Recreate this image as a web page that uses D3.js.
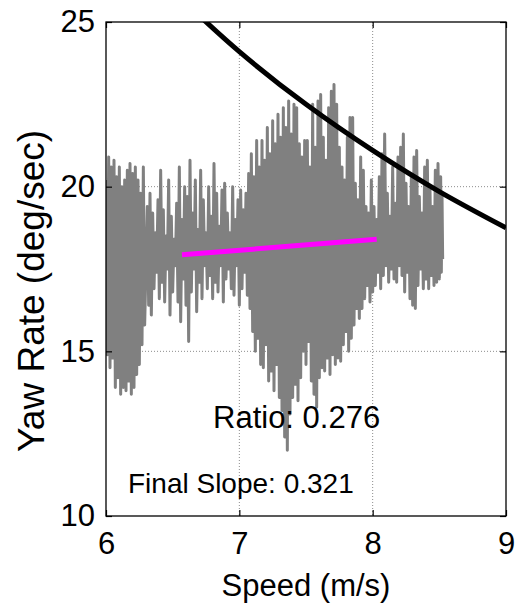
<!DOCTYPE html>
<html>
<head>
<meta charset="utf-8">
<script src="https://cdn.jsdelivr.net/npm/d3@7"></script>
<style>
  body { margin: 0; background: #fff; }
  svg { display: block; font-family: "Liberation Sans", Arial, Helvetica, sans-serif; }
</style>
</head>
<body>
<svg id="chart" width="518" height="608"></svg>
<script>
// axis ticks
const xTicks = [6, 7, 8, 9];
const yTicks = [10, 15, 20, 25];

// measured trace: each swing goes from a high yaw rate at spikeSpeed
// down to a low yaw rate at spikeLowSpeed
const spikeSpeed = [
  6.005, 6.02, 6.04, 6.06, 6.08, 6.10, 6.12, 6.14, 6.16, 6.18, 6.20, 6.22, 6.24, 6.26, 6.28,
  6.31, 6.33, 6.35, 6.37, 6.39, 6.41, 6.43, 6.45, 6.47, 6.49, 6.51, 6.53, 6.55, 6.57, 6.59,
  6.61, 6.63, 6.65, 6.67, 6.69, 6.71, 6.73, 6.75, 6.77, 6.79, 6.81, 6.83, 6.85, 6.87, 6.89,
  6.91, 6.93, 6.95, 6.97, 6.99,
  7.01, 7.03, 7.05, 7.07, 7.09, 7.11, 7.13, 7.15, 7.17, 7.19, 7.21, 7.23, 7.25, 7.27, 7.29,
  7.31, 7.33, 7.35, 7.37, 7.39, 7.41, 7.43, 7.45, 7.47, 7.49, 7.51, 7.53, 7.55, 7.57, 7.59,
  7.61, 7.63, 7.65, 7.67, 7.69, 7.71, 7.73, 7.75, 7.77, 7.79, 7.81, 7.83, 7.85, 7.87, 7.89,
  7.91, 7.93, 7.95, 7.97, 7.99,
  8.01, 8.03, 8.05, 8.07, 8.09, 8.11, 8.13, 8.15, 8.17, 8.19, 8.21, 8.23, 8.25, 8.27, 8.29,
  8.31, 8.33, 8.35, 8.37, 8.39, 8.41, 8.43, 8.45, 8.47, 8.49, 8.51, 8.52
];
const spikeLowSpeed = [
  6.01, 6.03, 6.05, 6.07, 6.09, 6.11, 6.13, 6.15, 6.17, 6.19, 6.21, 6.23, 6.25, 6.27, 6.29,
  6.32, 6.34, 6.36, 6.38, 6.40, 6.42, 6.44, 6.46, 6.48, 6.50, 6.52, 6.54, 6.56, 6.58, 6.60,
  6.62, 6.64, 6.66, 6.68, 6.70, 6.72, 6.74, 6.76, 6.78, 6.80, 6.82, 6.84, 6.86, 6.88, 6.90,
  6.92, 6.94, 6.96, 6.98, 7.00,
  7.02, 7.04, 7.06, 7.08, 7.10, 7.12, 7.14, 7.16, 7.18, 7.20, 7.22, 7.24, 7.26, 7.28, 7.30,
  7.32, 7.34, 7.36, 7.38, 7.40, 7.42, 7.44, 7.46, 7.48, 7.50, 7.52, 7.54, 7.56, 7.58, 7.60,
  7.62, 7.64, 7.66, 7.68, 7.70, 7.72, 7.74, 7.76, 7.78, 7.80, 7.82, 7.84, 7.86, 7.88, 7.90,
  7.92, 7.94, 7.96, 7.98, 8.00,
  8.02, 8.04, 8.06, 8.08, 8.10, 8.12, 8.14, 8.16, 8.18, 8.20, 8.22, 8.24, 8.26, 8.28, 8.30,
  8.32, 8.34, 8.36, 8.38, 8.40, 8.42, 8.44, 8.46, 8.48, 8.50, 8.515, 8.525
];
const spikeHigh = [
  20.2, 20.9, 20.6, 20.8, 20.3, 20.6, 20.0, 20.2, 20.5, 20.7, 20.4, 20.6, 20.2, 19.8, 20.6,
  19.4, 19.8, 19.2, 18.6, 19.6, 20.5, 19.3, 18.5, 20.2, 19.1, 18.4, 19.5, 20.6, 19.0, 20.0,
  19.7, 20.8, 19.2, 20.2, 18.7, 20.5, 19.6, 18.6, 20.0, 19.1, 20.7, 19.8, 18.8, 19.9, 20.1,
  19.2, 18.6, 20.0, 19.0, 19.6,
  19.9, 19.3, 19.8, 20.4, 21.0, 20.3, 21.4, 20.6, 21.4, 20.8, 21.8, 21.0, 22.0, 21.3, 22.2,
  21.5, 22.4, 21.8, 22.6, 21.6, 22.5, 22.4, 21.3, 20.9, 21.4, 21.4, 20.6, 22.5, 21.2, 22.6,
  22.8, 21.5, 20.8, 22.4, 22.9, 23.1, 22.5, 21.2, 20.6, 20.2, 21.5, 22.1, 22.1, 20.1, 19.6,
  20.9, 20.5, 19.4, 19.2, 20.2,
  19.4, 19.0, 20.3, 21.0, 21.6, 19.8, 19.1, 20.6, 19.5, 20.9, 21.2, 21.6, 20.1, 19.4, 20.3,
  20.9, 21.1, 19.7, 19.2, 20.6, 20.8, 19.9, 19.4, 20.5, 20.7, 20.3, 19.8
];
const spikeLow = [
  14.9, 14.5, 14.8, 13.9, 14.2, 13.7, 13.9, 13.8, 14.1, 13.7, 13.9, 14.3, 14.6, 15.2, 15.8,
  16.4, 16.1, 16.9, 17.4, 16.6, 17.1, 16.5, 17.5, 16.1, 16.8, 17.6, 16.5, 15.9, 17.2, 16.4,
  15.3, 16.8, 17.5, 16.2, 17.1, 16.6, 17.6, 16.9, 17.3, 16.6, 17.1, 16.8, 17.6, 16.5, 17.2,
  17.5, 16.9, 16.7, 17.6, 16.4,
  16.9, 17.4, 16.7, 16.3, 15.6, 15.0, 15.4, 14.6, 14.5, 15.2, 14.1, 14.4, 13.8, 14.6, 13.6,
  13.2, 12.4, 12.0, 13.1, 13.6, 14.0, 13.5, 14.2, 15.0, 14.6, 15.3, 14.1, 13.7, 13.3, 14.2,
  14.5, 14.4, 14.8, 14.3, 14.9, 14.6, 14.8, 14.7, 15.2, 15.6, 15.0, 15.4, 15.8, 16.3, 16.0,
  16.3, 16.6, 17.0, 16.5, 16.8,
  17.0, 17.4, 16.9, 17.3, 17.6, 17.1, 17.5, 17.2, 17.1, 17.6, 17.3, 16.8, 17.4, 16.6, 16.4,
  16.3, 17.0, 17.5, 16.9, 17.2, 16.9, 17.3, 17.0, 17.1, 17.2, 17.4, 17.8
];

// fitted line (magenta)
const fitSpeed = [6.57, 8.03];
const fitYaw = [17.93, 18.4];

// lateral acceleration limit curve (black)
const limitSpeed = [6.6, 7.0, 7.5, 8.0, 8.5, 9.0];
const limitYaw = [25.57, 24.1, 22.5, 21.1, 19.85, 18.75];

const ratioText = "Ratio: 0.276";
const slopeText = "Final Slope: 0.321";

const svg = d3.select("#chart");
const margin = { left: 106, top: 22, right: 12, bottom: 92 };
const width = 518 - margin.left - margin.right;
const height = 608 - margin.top - margin.bottom;

const x = d3.scaleLinear().domain([6, 9]).range([0, width]);
const y = d3.scaleLinear().domain([10, 25]).range([height, 0]);

const g = svg.append("g")
  .attr("transform", `translate(${margin.left},${margin.top})`);

g.append("clipPath").attr("id", "clip")
  .append("rect").attr("width", width).attr("height", height);

// dotted grid
g.append("g")
  .selectAll("line")
  .data(xTicks.slice(1, -1))
  .join("line")
  .attr("x1", d => x(d)).attr("x2", d => x(d))
  .attr("y1", 0).attr("y2", height)
  .attr("stroke", "#8c8c8c")
  .attr("stroke-width", 1)
  .attr("stroke-dasharray", "1,2");

g.append("g")
  .selectAll("line")
  .data(yTicks.slice(1, -1))
  .join("line")
  .attr("y1", d => y(d)).attr("y2", d => y(d))
  .attr("x1", 0).attr("x2", width)
  .attr("stroke", "#8c8c8c")
  .attr("stroke-width", 1)
  .attr("stroke-dasharray", "1,2");

// gray trace
const tracePts = [];
spikeSpeed.forEach((s, i) => {
  tracePts.push([s, spikeHigh[i]]);
  tracePts.push([spikeLowSpeed[i], spikeLow[i]]);
});

const line = d3.line().x(d => x(d[0])).y(d => y(d[1]));

g.append("path")
  .datum(tracePts)
  .attr("clip-path", "url(#clip)")
  .attr("fill", "none")
  .attr("stroke", "#808080")
  .attr("stroke-width", 3)
  .attr("stroke-linejoin", "round")
  .attr("d", line);

// fit line
g.append("path")
  .datum(fitSpeed.map((s, i) => [s, fitYaw[i]]))
  .attr("fill", "none")
  .attr("stroke", "#ff00ff")
  .attr("stroke-width", 5)
  .attr("d", line);

// limit curve
g.append("path")
  .datum(limitSpeed.map((s, i) => [s, limitYaw[i]]))
  .attr("clip-path", "url(#clip)")
  .attr("fill", "none")
  .attr("stroke", "#000")
  .attr("stroke-width", 5)
  .attr("d", line.curve(d3.curveNatural));

// box with inward ticks
const tickLen = 6;
const axisStyle = sel => {
  sel.select(".domain").remove();
  sel.selectAll(".tick line").attr("stroke", "#000").attr("stroke-width", 1.2);
  sel.selectAll("text").attr("fill", "#000").style("font-size", "31px");
};

g.append("g")
  .attr("transform", `translate(0,${height})`)
  .call(d3.axisBottom(x).tickValues(xTicks).tickSizeInner(-tickLen).tickSizeOuter(0).tickFormat(d3.format("d")))
  .call(axisStyle)
  .call(a => a.selectAll("text").attr("y", 38).attr("dy", 0));

g.append("g")
  .call(d3.axisLeft(y).tickValues(yTicks).tickSizeInner(-tickLen).tickSizeOuter(0).tickPadding(11).tickFormat(d3.format("d")))
  .call(axisStyle);

g.append("g")
  .call(d3.axisTop(x).tickValues(xTicks).tickSizeInner(-tickLen).tickSizeOuter(0).tickFormat(""))
  .call(axisStyle);

g.append("g")
  .attr("transform", `translate(${width},0)`)
  .call(d3.axisRight(y).tickValues(yTicks).tickSizeInner(-tickLen).tickSizeOuter(0).tickFormat(""))
  .call(axisStyle);

g.append("rect")
  .attr("width", width).attr("height", height)
  .attr("fill", "none")
  .attr("stroke", "#000")
  .attr("stroke-width", 1.3);

// annotations
g.append("text")
  .attr("x", 213 - margin.left)
  .attr("y", 428 - margin.top)
  .style("font-size", "31px")
  .text(ratioText);

g.append("text")
  .attr("x", 128 - margin.left)
  .attr("y", 493 - margin.top)
  .style("font-size", "28px")
  .text(slopeText);

// axis labels
svg.append("text")
  .attr("x", margin.left + width / 2)
  .attr("y", 596)
  .attr("text-anchor", "middle")
  .style("font-size", "31px")
  .text("Speed (m/s)");

svg.append("text")
  .attr("transform", "translate(44,291) rotate(-90)")
  .attr("text-anchor", "middle")
  .style("font-size", "37px")
  .text("Yaw Rate (deg/sec)");
</script>
</body>
</html>
